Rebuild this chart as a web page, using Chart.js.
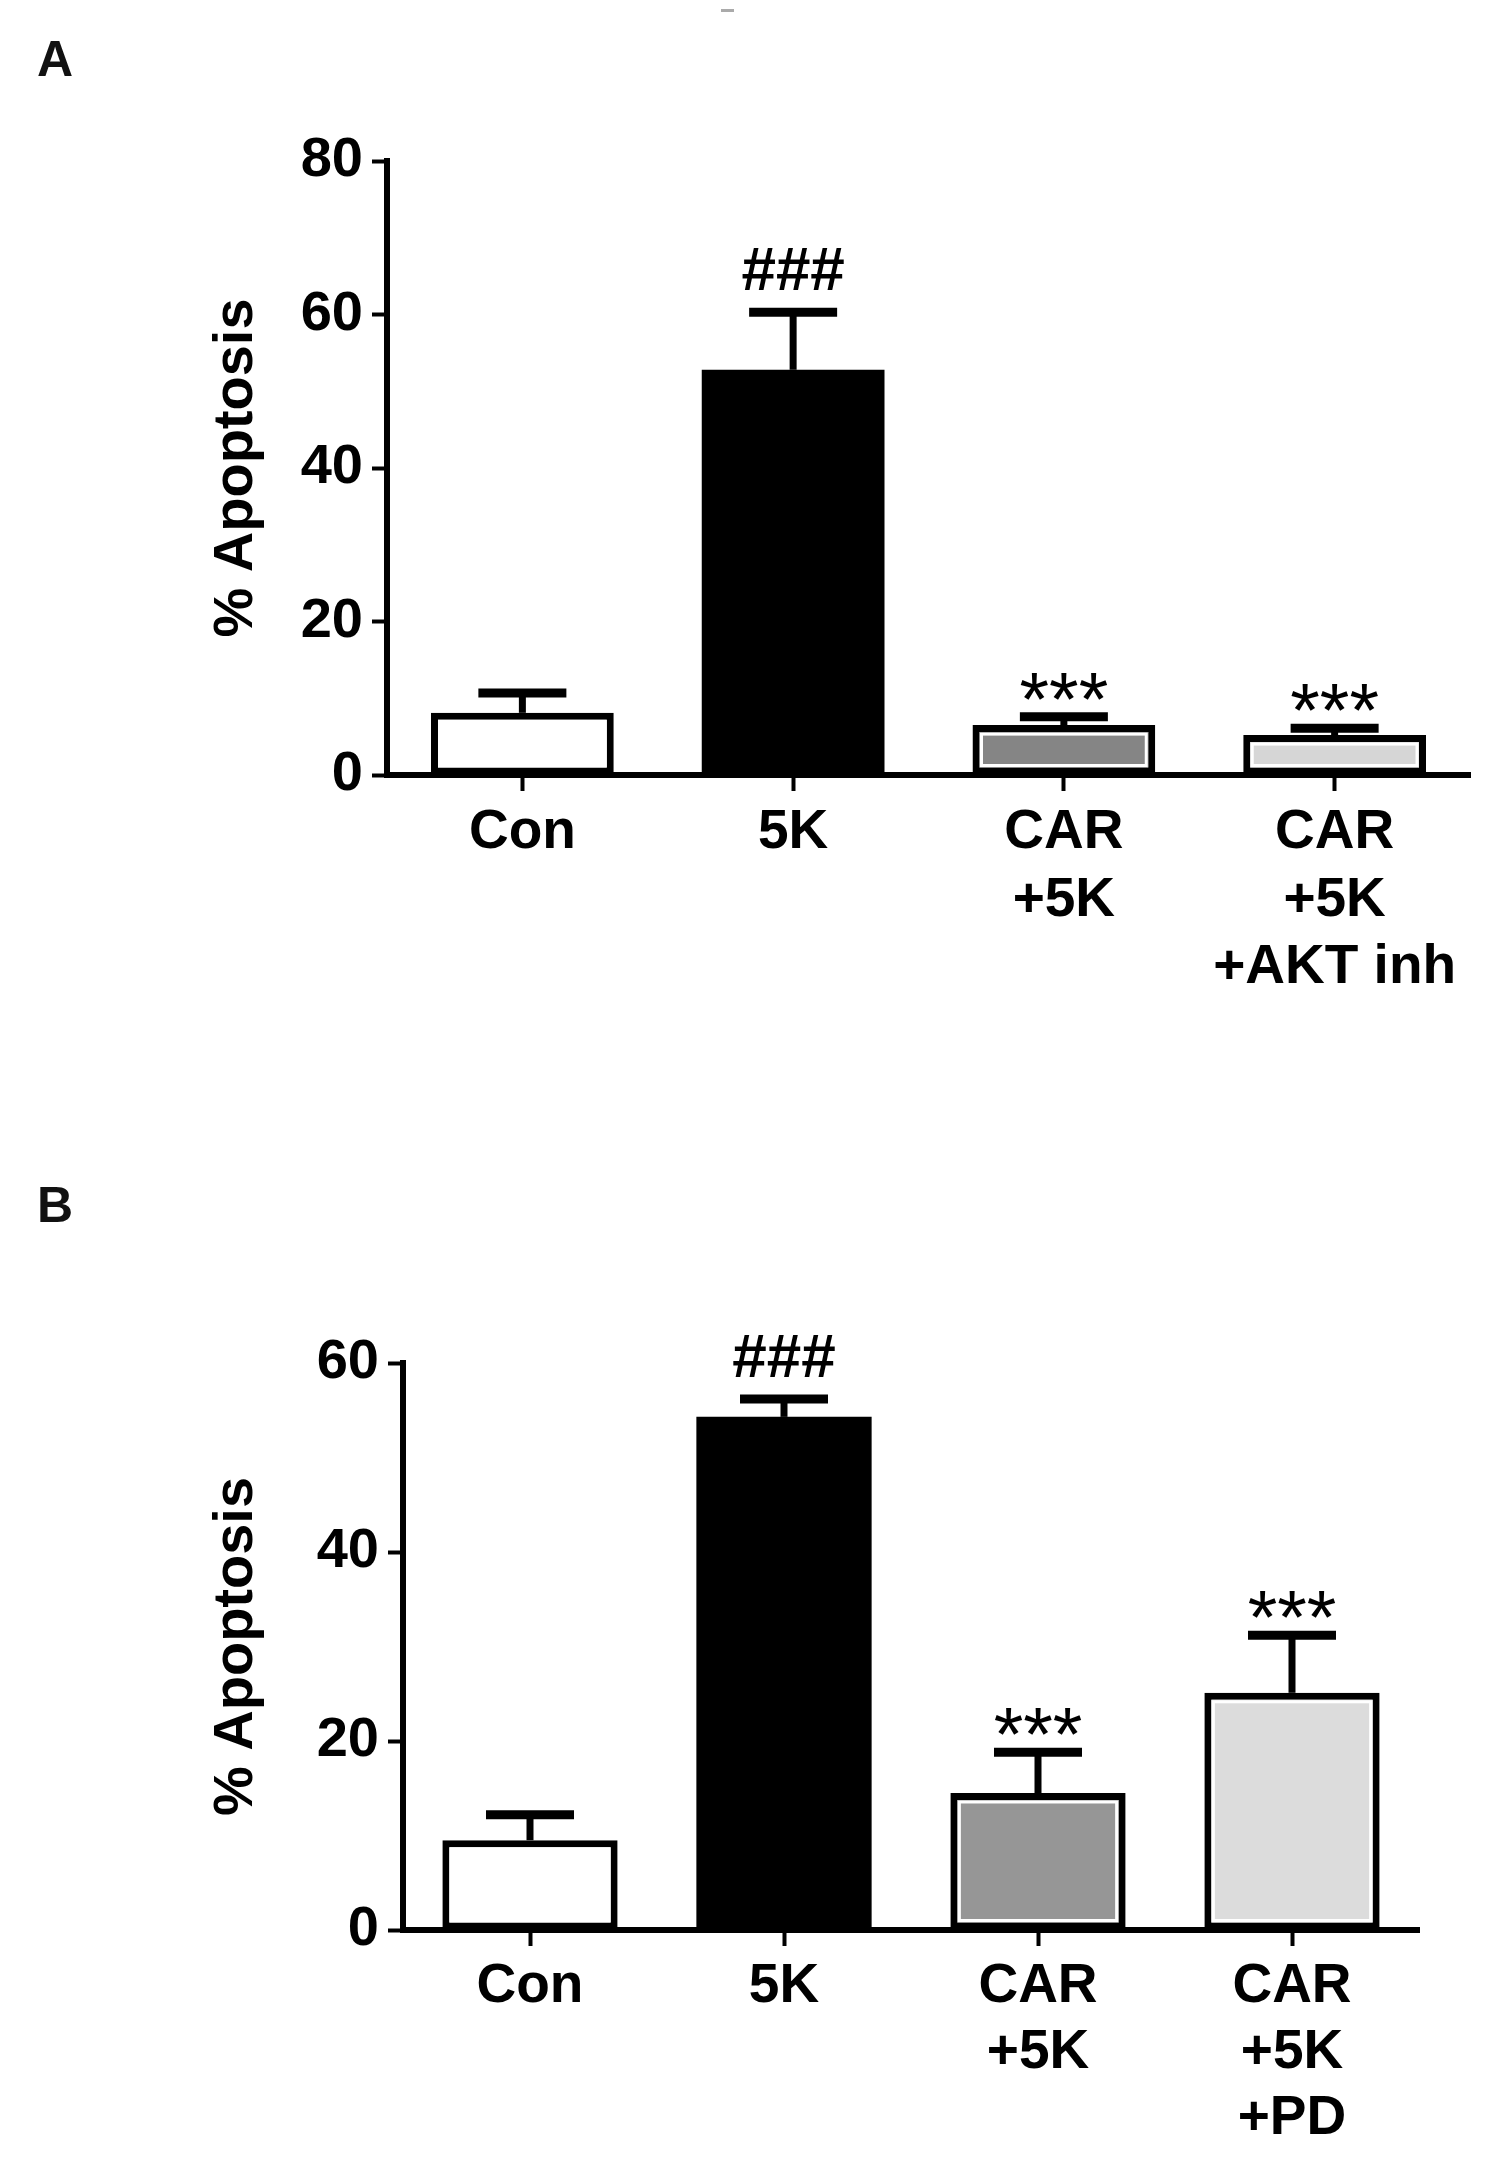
<!DOCTYPE html>
<html>
<head>
<meta charset="utf-8">
<script src="https://cdn.jsdelivr.net/npm/chart.js@4.4.1/dist/chart.umd.min.js"></script>
<style>
  html, body { margin: 0; padding: 0; background: #fff; }
  body { width: 1491px; height: 2164px; position: relative; overflow: hidden; font-family: "Liberation Sans", Arial, sans-serif; }
  canvas { position: absolute; left: 0; }
  .panel { position: absolute; left: 37px; font-size: 50px; font-weight: bold; line-height: 1; color: #111; }
  .dash { position: absolute; left: 721px; top: 9px; width: 13px; height: 3px; background: #aaa; }
</style>
</head>
<body>
<div class="dash"></div>
<div class="panel" style="top:34px">A</div>
<div class="panel" style="top:1180px">B</div>
<canvas id="chartA" width="1491" height="1082" style="top:0"></canvas>
<canvas id="chartB" width="1491" height="1082" style="top:1082px"></canvas>
<script>
// Panel A - AKT inhibitor
const labelsA = ['Con', '5K', ['CAR', '+5K'], ['CAR', '+5K', '+AKT inh']];
const meanA = [8.1, 52.8, 6.5, 5.2];
const semA = [2.6, 7.5, 1.1, 0.9];
const marksA = ['', '###', '***', '***'];
const ticksA = [0, 20, 40, 60, 80];

// Panel B - PD
const labelsB = ['Con', '5K', ['CAR', '+5K'], ['CAR', '+5K', '+PD']];
const meanB = [9.5, 54.3, 14.5, 25.1];
const semB = [2.7, 1.9, 4.3, 6.1];
const marksB = ['', '###', '***', '***'];
const ticksB = [0, 20, 40, 60];

const FONT = '"Liberation Sans", Arial, sans-serif';
Chart.defaults.font.family = FONT;
Chart.defaults.color = '#000';

// upper error bars, significance marks and the thin white inner rim of gray bars
const errorBars = {
  id: 'errorBars',
  afterDatasetsDraw(chart, args, opts) {
    const ctx = chart.ctx;
    const y = chart.scales.y;
    const ds = chart.data.datasets[0];
    chart.getDatasetMeta(0).data.forEach((bar, i) => {
      const fill = ds.backgroundColor[i];
      const left = bar.x - bar.width / 2;
      ctx.save();
      if (fill !== '#ffffff' && fill !== '#000000') {
        ctx.strokeStyle = '#ffffff';
        ctx.lineWidth = 3;
        ctx.strokeRect(left + 9, bar.y + 9, bar.width - 18, bar.base - bar.y - 18);
      }
      const top = y.getPixelForValue(ds.data[i] + opts.err[i]);
      ctx.strokeStyle = '#000';
      ctx.lineWidth = 7;
      ctx.beginPath();
      ctx.moveTo(bar.x, bar.y);
      ctx.lineTo(bar.x, top);
      ctx.stroke();
      ctx.lineWidth = 9;
      ctx.beginPath();
      ctx.moveTo(bar.x - 44, top);
      ctx.lineTo(bar.x + 44, top);
      ctx.stroke();

      const mark = opts.marks[i];
      if (mark) {
        ctx.fillStyle = '#000';
        ctx.textAlign = 'center';
        ctx.textBaseline = 'alphabetic';
        if (mark[0] === '#') {
          ctx.font = 'bold 62px ' + FONT;
          ctx.fillText(mark, bar.x, top - 44 + 22);
        } else {
          ctx.font = '76px ' + FONT;
          ctx.fillText(mark, bar.x, top - 35 + 43);
        }
      }
      ctx.restore();
    });
  }
};

function makeChart(id, labels, mean, sem, marks, ticks, colors, area, barPct, lineH) {
  return new Chart(document.getElementById(id), {
    type: 'bar',
    data: {
      labels: labels,
      datasets: [{
        data: mean,
        backgroundColor: colors,
        borderColor: '#000',
        borderWidth: colors.map(c => (c === '#000000' ? 0 : 7)),
        borderSkipped: false,
        barPercentage: barPct,
        categoryPercentage: 1
      }]
    },
    plugins: [errorBars],
    options: {
      responsive: false,
      animation: false,
      devicePixelRatio: 1,
      layout: { padding: { left: 0, top: area.top, right: 1491 - area.right, bottom: 0 } },
      plugins: {
        legend: { display: false },
        tooltip: { enabled: false },
        errorBars: { err: sem, marks: marks }
      },
      scales: {
        x: {
          offset: true,
          ticks: { font: { size: 55, weight: 'bold', lineHeight: lineH }, padding: 8, maxRotation: 0, autoSkip: false },
          grid: { drawOnChartArea: false, offset: false, tickLength: 16, tickWidth: 4, tickColor: '#000' },
          border: { color: '#000', width: 6 },
          afterFit: s => { s.height = 1082 - area.bottom; }
        },
        y: {
          min: 0,
          max: ticks[ticks.length - 1],
          afterBuildTicks: s => { s.ticks = ticks.map(v => ({ value: v })); },
          ticks: { font: { size: 56, weight: 'bold' }, padding: 9 },
          grid: { drawOnChartArea: false, tickLength: 15, tickWidth: 4, tickColor: '#000' },
          border: { color: '#000', width: 6 },
          title: {
            display: true,
            text: '% Apoptosis',
            font: { size: 56, weight: 'bold', lineHeight: 1.2 },
            padding: { top: 203, bottom: 0 }
          },
          afterFit: s => { s.width = area.left; }
        }
      }
    }
  });
}

makeChart('chartA', labelsA, meanA, semA, marksA, ticksA,
  ['#ffffff', '#000000', '#858585', '#d6d6d6'],
  { left: 387, right: 1470, top: 161, bottom: 775 }, 0.675, 1.23);

makeChart('chartB', labelsB, meanB, semB, marksB, ticksB,
  ['#ffffff', '#000000', '#969696', '#dcdcdc'],
  { left: 403, right: 1419, top: 281, bottom: 848 }, 0.69, 1.2);
</script>
</body>
</html>
